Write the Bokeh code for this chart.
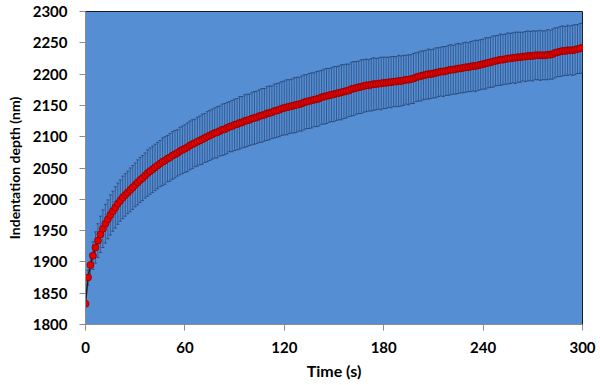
from bokeh.plotting import figure
from bokeh.models import ColumnDataSource, Range1d, FixedTicker, Whisker, TeeHead
from bokeh.embed import file_html
from bokeh.resources import INLINE

time_step = 1.5
depth = [
    1833, 1875, 1895, 1910, 1923, 1934, 1944, 1953, 1961, 1968,
    1975, 1981, 1987, 1993, 1998, 2003, 2007, 2011, 2015, 2019,
    2023, 2027, 2031, 2034, 2038, 2042, 2045, 2048, 2051, 2054,
    2057, 2060, 2062, 2065, 2067, 2070, 2072, 2074, 2077, 2079,
    2081, 2083, 2086, 2088, 2090, 2092, 2094, 2096, 2098, 2100,
    2102, 2104, 2106, 2107, 2109, 2111, 2112, 2114, 2116, 2117,
    2119, 2120, 2122, 2123, 2125, 2126, 2127, 2129, 2130, 2131,
    2133, 2134, 2135, 2137, 2138, 2139, 2141, 2142, 2143, 2145,
    2146, 2147, 2148, 2149, 2150, 2151, 2152, 2153, 2155, 2156,
    2157, 2158, 2159, 2160, 2161, 2163, 2164, 2165, 2166, 2167,
    2168, 2169, 2170, 2171, 2172, 2173, 2174, 2176, 2177, 2178,
    2179, 2180, 2181, 2182, 2182, 2183, 2184, 2184, 2185, 2185,
    2186, 2186, 2187, 2187, 2188, 2188, 2189, 2189, 2190, 2191,
    2191, 2192, 2193, 2195, 2196, 2197, 2198, 2199, 2200, 2200,
    2201, 2202, 2203, 2204, 2204, 2205, 2206, 2207, 2207, 2208,
    2209, 2209, 2210, 2211, 2211, 2212, 2213, 2213, 2214, 2215,
    2216, 2217, 2218, 2219, 2220, 2221, 2222, 2223, 2223, 2224,
    2225, 2225, 2226, 2226, 2227, 2227, 2228, 2228, 2229, 2229,
    2229, 2230, 2230, 2230, 2230, 2230, 2231, 2231, 2232, 2234,
    2235, 2236, 2237, 2237, 2238, 2238, 2238, 2239, 2240, 2241,
    2242,
]
std_dev = [
    3, 12, 18, 22, 25, 27, 29, 30, 31, 31,
    32, 32, 33, 33, 33, 34, 34, 34, 35, 35,
    35, 36, 36, 36, 36, 37, 37, 37, 37, 37,
    37, 38, 38, 37, 38, 38, 38, 37, 38, 38,
    38, 39, 39, 39, 38, 39, 39, 40, 39, 40,
    40, 40, 40, 41, 40, 41, 41, 41, 40, 41,
    41, 41, 42, 41, 42, 42, 41, 42, 42, 42,
    42, 43, 42, 43, 43, 42, 43, 43, 43, 43,
    43, 44, 43, 43, 44, 44, 43, 44, 44, 43,
    44, 44, 43, 44, 44, 43, 44, 44, 43, 43,
    44, 43, 43, 44, 43, 43, 42, 43, 43, 42,
    42, 43, 42, 42, 41, 42, 42, 41, 41, 42,
    41, 41, 40, 41, 40, 40, 41, 40, 40, 39,
    40, 39, 40, 39, 39, 40, 39, 39, 40, 39,
    39, 40, 39, 39, 40, 39, 40, 40, 39, 40,
    40, 39, 40, 40, 39, 40, 40, 41, 40, 40,
    40, 41, 40, 40, 41, 40, 40, 41, 40, 40,
    41, 40, 40, 41, 40, 40, 39, 40, 40, 39,
    40, 39, 39, 40, 39, 39, 40, 39, 40, 40,
    39, 40, 40, 39, 40, 39, 40, 40, 39, 40,
    39,
]
x_ticks = [0, 60, 120, 180, 240, 300]
y_ticks = [1800, 1850, 1900, 1950, 2000, 2050, 2100, 2150, 2200, 2250, 2300]

time = [i * time_step for i in range(len(depth))]
upper = [d + s for d, s in zip(depth, std_dev)]
lower = [d - s for d, s in zip(depth, std_dev)]
src = ColumnDataSource(dict(t=time, d=depth, up=upper, lo=lower))

FONT = "Lato"
p = figure(width=600, height=385, output_backend="svg", toolbar_location=None,
           x_range=Range1d(0, 300), y_range=Range1d(1800, 2300),
           min_border_left=85, min_border_right=18, min_border_top=11, min_border_bottom=61)

p.background_fill_color = "#568ED4"
p.border_fill_color = "white"
p.outline_line_color = "#1a1a1a"
p.outline_line_width = 1
p.grid.visible = False

for ax in (p.xaxis[0], p.yaxis[0]):
    ax.axis_line_color = "#8c8c8c"
    ax.major_tick_line_color = "#8c8c8c"
    ax.major_tick_out = 6
    ax.major_tick_in = 0
    ax.minor_tick_line_color = None
    ax.major_label_text_font = FONT
    ax.major_label_text_font_style = "bold"
    ax.major_label_text_font_size = "15px"
    ax.major_label_text_color = "black"
    ax.axis_label_text_font = FONT
    ax.axis_label_text_font_style = "bold"
    ax.axis_label_text_color = "black"

p.xaxis.axis_label_text_font_size = "16px"
p.yaxis.axis_label_text_font_size = "14px"
p.xaxis.ticker = FixedTicker(ticks=x_ticks)
p.yaxis.ticker = FixedTicker(ticks=y_ticks)
p.xaxis.axis_label = "Time (s)"
p.yaxis.axis_label = "Indentation depth (nm)"
p.xaxis.major_label_standoff = 11
p.xaxis.axis_label_standoff = 5
p.yaxis.major_label_standoff = 12
p.yaxis.axis_label_standoff = 7

whisk = Whisker(source=src, base="t", upper="up", lower="lo",
                line_color="#1f3a64", line_width=0.7, line_alpha=0.85,
                upper_head=TeeHead(size=3, line_color="#1f3a64", line_width=0.7),
                lower_head=TeeHead(size=3, line_color="#1f3a64", line_width=0.7))
p.add_layout(whisk)

p.line("t", "d", source=src, line_color="#1a1a1a", line_width=1.5)
p.scatter("t", "d", source=src, size=7, fill_color="#e50000",
          line_color="#8b0000", line_width=0.8)

open("out.html", "w").write(file_html(p, INLINE))
